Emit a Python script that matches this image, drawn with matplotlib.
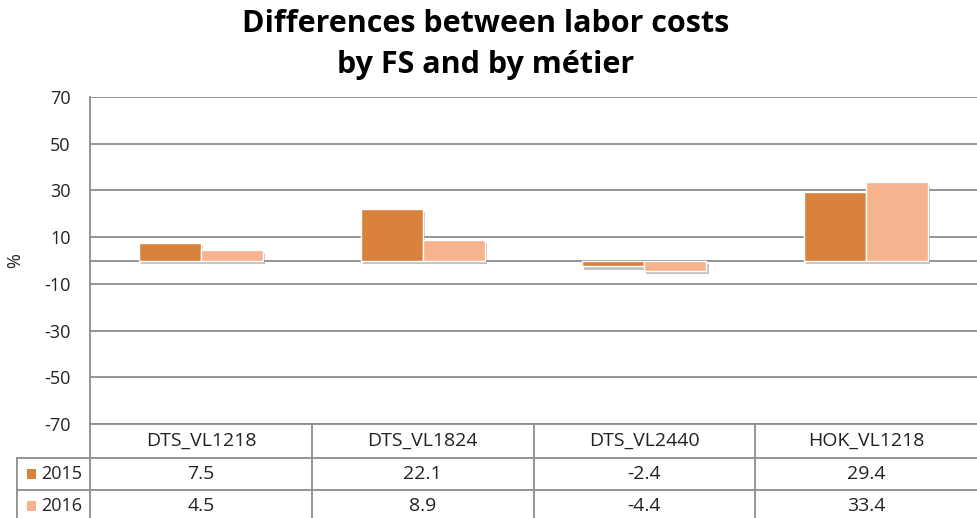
import matplotlib

matplotlib.use("Agg")
import matplotlib.pyplot as plt
import matplotlib.patheffects as pe
import numpy as np
from matplotlib.lines import Line2D
from matplotlib.patches import Rectangle

categories = ["DTS_VL1218", "DTS_VL1824", "DTS_VL2440", "HOK_VL1218"]
years = ["2015", "2016"]
values_2015 = [7.5, 22.1, -2.4, 29.4]
values_2016 = [4.5, 8.9, -4.4, 33.4]
yticks = [-70, -50, -30, -10, 10, 30, 50, 70]

colors = ["#D8823C", "#F7B38E"]
grid_color = "#8C8C8C"
text_color = "#222222"

plt.rcParams["font.family"] = ["Open Sans", "DejaVu Sans"]

W, H = 977, 518
fig = plt.figure(figsize=(W / 100, H / 100), dpi=100)
left, right, top, bottom = 90, 977, 97, 424
ax = fig.add_axes([left / W, 1 - bottom / H, (right - left) / W, (bottom - top) / H])

x = np.arange(len(categories))
bw = 0.28
shadow = [pe.SimplePatchShadow(offset=(1.5, -2.5), shadow_rgbFace="#7a7a7a", alpha=0.45), pe.Normal()]
for i, vals in enumerate([values_2015, values_2016]):
    bars = ax.bar(x + (i - 0.5) * bw, vals, bw, color=colors[i], edgecolor="white",
                  linewidth=1.0, zorder=3)
    for b in bars:
        b.set_path_effects(shadow)

ax.set_xlim(-0.5, len(categories) - 0.5)
ax.set_ylim(-70, 70)
ax.set_yticks(yticks)
ax.set_yticklabels([str(t) for t in yticks], fontsize=13, color=text_color)
ax.tick_params(axis="y", length=0, pad=14)
ax.set_xticks([])
for t in yticks:
    ax.axhline(t, color=grid_color, linewidth=1.3, zorder=1)
ax.axhline(0, color=grid_color, linewidth=1.3, zorder=2)
for s in ["top", "right", "bottom"]:
    ax.spines[s].set_visible(False)
ax.spines["left"].set_color(grid_color)
ax.spines["left"].set_linewidth(1.3)
ax.set_ylabel("%", fontsize=13, color=text_color)
ax.yaxis.set_label_coords(-(left - 24) / (right - left), 0.5)

# data table below the plot area (axes units)
axh = bottom - top
rows = [34 / axh, 32 / axh, 32 / axh]
y0 = 0
y1 = -rows[0]
y2 = y1 - rows[1]
y3 = y2 - rows[2]
ncat = len(categories)
legx = (17 - left) / (right - left)
line_kw = dict(color=grid_color, linewidth=1.3, transform=ax.transAxes, clip_on=False)
ax.add_line(Line2D([0, 1], [y0, y0], **line_kw))
ax.add_line(Line2D([legx, 1], [y1, y1], **line_kw))
ax.add_line(Line2D([legx, 1], [y2, y2], **line_kw))
ax.add_line(Line2D([legx, legx], [y1, y3], **line_kw))
ax.add_line(Line2D([0, 0], [y0, y3], **line_kw))
for k in range(1, ncat):
    ax.add_line(Line2D([k / ncat, k / ncat], [y0, y3], **line_kw))

tfs = 14
for k, c in enumerate(categories):
    ax.text((k + 0.5) / ncat, (y0 + y1) / 2, c, transform=ax.transAxes,
            ha="center", va="center", fontsize=tfs, color=text_color)
for r, (yr, vals) in enumerate(zip(years, [values_2015, values_2016])):
    yc = [(y1 + y2) / 2, (y2 + y3) / 2][r]
    for k, v in enumerate(vals):
        ax.text((k + 0.5) / ncat, yc, f"{v}", transform=ax.transAxes,
                ha="center", va="center", fontsize=tfs, color=text_color)
    ax.add_patch(Rectangle((legx + 0.011, yc - 0.016), 0.010, 0.032, facecolor=colors[r],
                           edgecolor="none", transform=ax.transAxes, clip_on=False))
    ax.text(legx + 0.027, yc, yr, transform=ax.transAxes, ha="left", va="center",
            fontsize=13, color=text_color)

fig.text(0.497, 0.982, "Differences between labor costs\nby FS and by métier", ha="center",
         va="top", fontsize=22, fontweight="bold", linespacing=1.45)

fig.savefig("out.png", dpi=100)
